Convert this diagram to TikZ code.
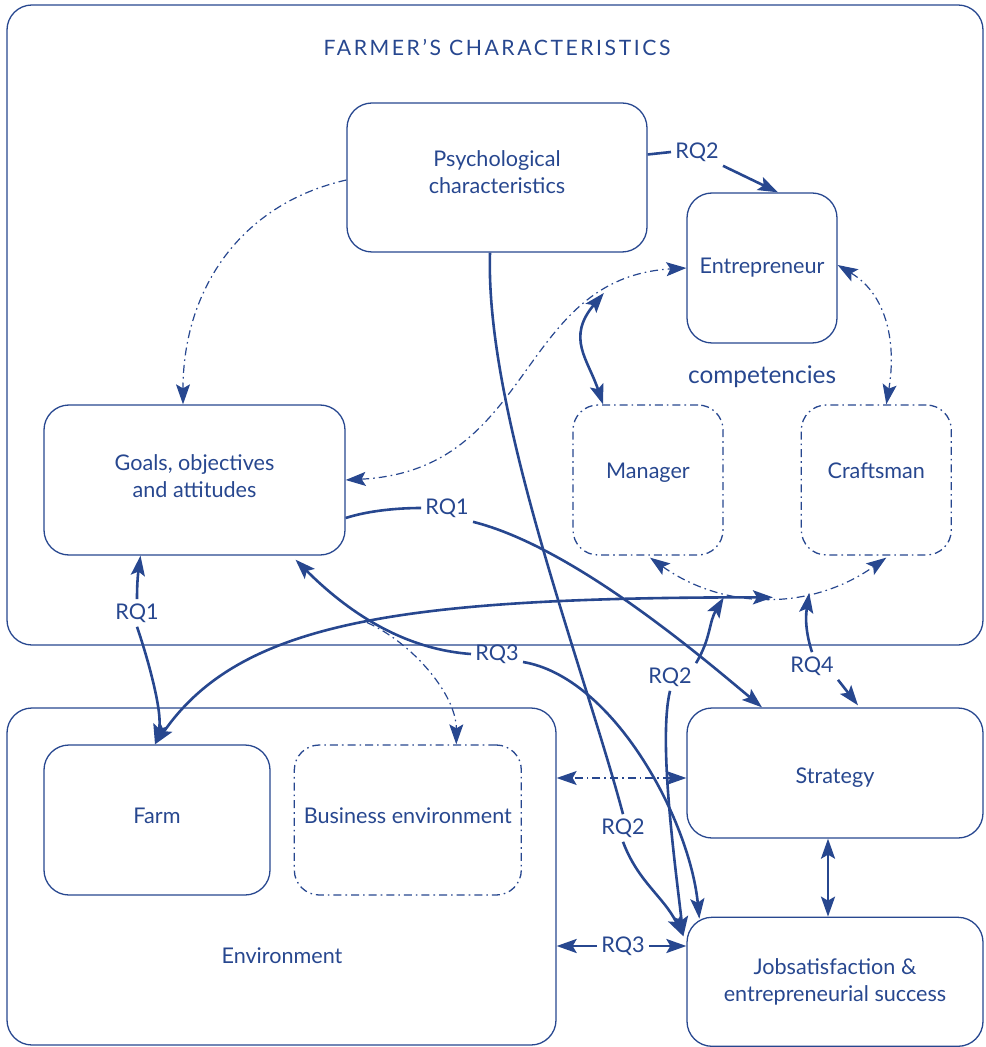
\documentclass[tikz,border=0pt]{standalone}
\usepackage{fontspec}
\setmainfont{Lato}
\usetikzlibrary{arrows.meta,positioning,calc}
\definecolor{farmblue}{HTML}{27478F}
\tikzset{
       arr/.style = {line width=1.3pt},            % solid RQ links
        dd/.style = {line width=0.6pt,
                     dash pattern=on 4pt off 2pt on 0.8pt off 2pt},
       box/.style = {draw, line width=0.65pt, rounded corners=12.5pt,
                     align=center, inner sep=0pt},
   dashbox/.style = {box, dash pattern=on 4pt off 2pt on 0.8pt off 2pt},
        rq/.style = {inner sep=2pt},
}

\begin{document}
\begin{tikzpicture}[x=0.5pt,y=-0.5pt,color=farmblue,
    >={Stealth[length=10pt,width=7pt,inset=2pt]},
    font=\fontsize{10.8}{13.5}\selectfont]
\useasboundingbox (0,0) rectangle (985,1047);
% frames
\node[box,minimum width=488pt,minimum height=320pt] (farmer) at (495,325) {};
\node[font={\fontsize{10.6}{12}\selectfont\addfontfeatures{LetterSpace=12}}] (title) at (497,47) {FARMER’S CHARACTERISTICS};
\node[box,minimum width=274.5pt,minimum height=168.5pt] (env) at (281.5,876.5) {};
\node (envlbl) at (282,956) {Environment};
% boxes
\node[box,minimum width=150pt,minimum height=74.5pt,text depth=5pt] (P) at (497,177.5) {Psychological\\characteristics};
\node[box,minimum width=75pt,minimum height=75pt] (E) at (762,268) {Entrepreneur};
\node[font=\fontsize{12.2}{14}\selectfont] (comp) at (762,377) {competencies};
\node[dashbox,minimum width=75pt,minimum height=75pt,text depth=9pt] (M) at (648,480) {Manager};
\node[dashbox,minimum width=75pt,minimum height=75pt,text depth=9pt,right=38.5pt of M] (C) {Craftsman};
\node[box,minimum width=150.5pt,minimum height=75pt,text depth=4pt] (G) at (194.5,480) {Goals, objectives\\and attitudes};
\node[box,minimum width=113pt,minimum height=75pt,text depth=4pt] (F) at (157,820) {Farm};
\node[dashbox,minimum width=113.5pt,minimum height=75pt,text depth=4pt,right=11.5pt of F] (B) {Business environment};
\node[box,minimum width=148pt,minimum height=65pt,text height=12pt] (S) at (835,773) {Strategy};
\node[box,minimum width=148pt,minimum height=64.5pt,below=39pt of S] (J) {Jobsatisfaction \&\\entrepreneurial success};
% labels
\node[rq] (rqa) at (697,152) {RQ2};
\node[rq] (rqc) at (623,828) {RQ2};
\node[rq] (rqd) at (137,613) {RQ1};
\node[rq] (rqe) at (447,508) {RQ1};
\node[rq] (rqf) at (497,654) {RQ3};
\node[rq] (rqg) at (623,946) {RQ3};
\node[rq] (rqh) at (812,666) {RQ4};
\node[rq] (rqi) at (670,677) {RQ2};
% dash-dot links
\draw[dd,->] ($(P.west)+(0,2.5)$) .. controls +(-110,25) and +(0,-110) .. ($(G.north)+(-11.5,0)$);
\draw[dd,<->] (G.east) .. controls +(190,-10) and +(-170,10) .. (E.west) coordinate[pos=0.8] (gem);
\draw[dd,<->] ($(E.east)+(0,-3)$) .. controls +(50,30) and +(10,-60) .. ($(C.north)+(10,0)$);
\draw[dd,<->] ($(M.south)+(2,2)$) .. controls +(75,53) and +(-75,53) .. ($(C.south)+(10,2)$)
   coordinate[pos=0.52] (mc) coordinate[pos=0.67] (mc4);
\coordinate (s1) at ($(S.west)+(0,5)$);
\draw[dd,<->] (s1) -- (s1 -| env.east);
% solid links
\draw[arr,<->] (gem) .. controls +(-38,45) and +(-15,-45) .. ($(M.north)+(-45,0)$);
\draw[arr,<->] ($(F.north)+(-2,0)$) .. controls +(85,-122) and +(-375,0) .. (mc)
   coordinate[pos=0.52] (cross) coordinate[pos=0.955] (lc);
\draw[dd,->] (cross) .. controls +(45,20) and +(0,-50) .. ($(B.north)+(48.5,0)$);
\draw[arr] ($(P.east)+(0,-23)$) -- (rqa.west);
\draw[arr,->] (rqa.south east) -- ($(E.north)+(16,0)$);
\draw[arr] ($(P.south)+(-7,0)$) .. controls +(-5,160) and +(-40,-150) .. (rqc.north);
\draw[arr,->] (rqc.south) .. controls +(15,40) and +(-20,-40) .. ($(J.west)+(-3,-45.5)$);
\draw[arr,->] (rqd.north) .. controls +(0,-20) and +(-2,15) .. ($(G.south)+(-54,0)$);
\draw[arr,->] (rqd.south) .. controls +(12,35) and +(8,-30) .. ($(F.north)+(-2,0)$);
\draw[arr] ($(G.east)+(0,38)$) .. controls +(25,-8) and +(-20,0) .. (rqe.west);
\draw[arr,->] (rqe.south east) .. controls +(100,25) and +(-60,-50) .. ($(S.north)+(-73,0)$);
\draw[arr,->] (rqf.west) .. controls +(-70,-5) and +(50,50) .. ($(G.south)+(101,4)$);
\draw[arr,->] ($(rqf.east)+(0,8)$) .. controls +(90,15) and +(-10,-100) .. ($(J.north west)+(13,2)$);
\draw[arr,<->] ($(S.south)+(-7,0)$) -- ($(J.north)+(-7,0)$);
\draw[arr,->] (rqg.west) -- (rqg.west -| env.east);
\draw[arr,->] (rqg.east) -- (rqg.east -| J.west);
\draw[arr,->] (rqh.north) .. controls +(-8,-25) and +(-3,20) .. (mc4);
\draw[arr,->] (rqh.south east) -- ($(S.north)+(23,-2)$);
\draw[arr,->] (rqi.north east) .. controls +(15,-25) and +(-15,25) .. (lc);
\draw[arr,->] (rqi.south) .. controls +(-12,50) and +(-8,-70) .. ($(J.west)+(-3,-45.5)$);
\end{tikzpicture}
\end{document}
